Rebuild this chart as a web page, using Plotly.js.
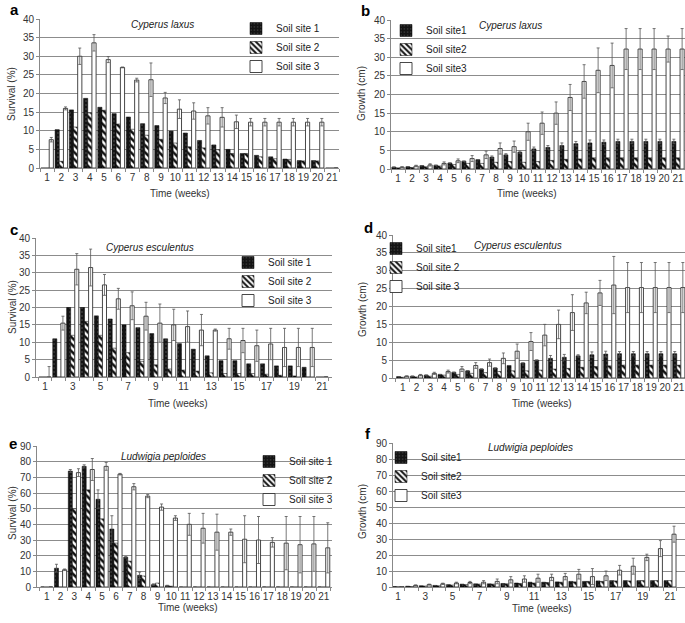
<!DOCTYPE html>
<html><head><meta charset="utf-8">
<script src="https://cdn.plot.ly/plotly-3.0.1.min.js"></script>
<style>html,body{margin:0;padding:0;background:#fff}#chart{width:685px;height:623px}</style>
</head><body><div id="chart"></div>
<script>
// ---------- data ----------
const weeks = [1,2,3,4,5,6,7,8,9,10,11,12,13,14,15,16,17,18,19,20,21];
const oddWeeks = [1,3,5,7,9,11,13,15,17,19,21];

// a: Cyperus laxus, survival (%)
const aSite1 = [0,10.3,15.6,18.7,16.3,14.6,13.7,11.9,11.4,9.9,9.4,7.4,6.2,5.0,3.9,3.4,3.0,2.4,2.0,2.0,0];
const aSite2 = [0,1.8,11.0,14.8,15.5,11.8,10.4,8.8,7.7,6.7,5.7,5.4,4.9,3.9,3.9,3.0,2.5,2.3,1.9,1.9,0];
const aSite3 = [7.6,16.0,30.0,33.6,29.1,27.0,23.6,23.7,18.8,15.8,15.3,14.0,13.6,12.4,12.3,12.3,12.3,12.3,12.3,12.3,0];
const aErr3  = [0.6,0.4,2.2,2.2,0.8,0.1,0.5,4.5,1.5,2.5,2.2,2.2,2.6,1.8,1.0,1.0,1.0,1.0,1.0,1.0,0];

// b: Cyperus laxus, growth (cm)
const bSite1 = [0.5,0.6,0.9,1.0,1.6,2.1,2.5,3.2,3.8,4.5,5.4,5.8,6.3,6.8,7.0,7.2,7.4,7.4,7.4,7.4,7.4];
const bSite2 = [0.3,0.4,0.6,0.8,1.2,1.5,1.5,1.8,2.0,1.8,2.0,2.3,2.6,2.7,3.0,3.0,3.0,3.0,3.0,3.0,3.0];
const bSite3 = [0.5,0.8,1.1,1.5,2.2,2.8,3.8,5.5,6.0,10.0,12.3,15.0,19.2,23.5,26.5,27.8,32.2,32.2,32.2,32.2,32.2];
const bErr1  = [0,0,0,0,0,0,0,0.3,0.3,0.3,0.5,0.5,0.7,0.6,0.8,0.6,0.6,0.6,0.6,0.6,0.6];
const bErr3  = [0.1,0.2,0.3,0.4,0.5,0.8,1.0,1.5,1.5,2.3,3.0,3.0,3.5,4.5,6.0,6.0,5.5,5.5,5.5,3.5,5.5];

// c: Cyperus esculentus, survival (%)
const cSite1 = [0,11,20,20,17.6,16.7,15,14.2,12.5,11,9.6,8,6.1,4.7,4.7,3.8,3.8,3.2,3.2,2.8,0];
const cSite2 = [0,0,12,16,12,8.3,7,4.5,3.5,2.3,2,1.7,1.2,1,1,1,0.8,0.5,0.3,0,0];
const cSite3 = [0,15.5,31,31.5,26.5,22.5,20.5,17.5,15.5,15,14.5,13.5,13.5,11,10.5,9,9.5,8.5,8.5,8.5,0];
const cErr3  = [3,2,4.5,5.3,3,3,4,4,5.5,4.5,4.5,4.5,0.3,3,3.5,4.5,4.5,5.5,5.5,5.5,0];

// d: Cyperus esculentus, growth (cm)
const dSite1 = [0.4,0.5,0.8,1.0,1.6,2.0,2.5,2.8,3.5,4.2,5.0,5.5,5.8,6.2,6.5,6.7,6.8,6.8,6.8,6.8,6.8];
const dSite2 = [0.2,0.3,0.5,0.8,1.0,1.3,1.5,1.8,2.0,2.0,2.2,2.5,2.7,3.0,3.2,3.4,3.6,3.6,3.6,3.6,3.6];
const dSite3 = [0.5,0.8,1.3,1.8,2.5,3.5,4.3,5.5,7.5,10.2,12,15,18.3,21,23.8,26,25.3,25.3,25.3,25.3,25.3];
const dErr1  = [0,0,0,0,0,0,0,0,0,0,0,0.8,0.8,0.3,0.8,0.8,0.6,0.6,0.6,0.6,0.6];
const dErr3  = [0.1,0.2,0.3,0.4,0.7,0.8,1.0,1.5,2.0,2.5,3.0,4.0,5.0,3.0,3.5,8.0,7.0,7.0,7.0,7.0,7.0];

// e: Ludwigia peploides, survival (%)
const eSite1 = [0,12,74,77,56,37,19,7.5,1.5,0.8,0,0,0,0,0,0,0,0,0,0,0];
const eSite2 = [0,0,50,62,43.5,28,16.5,7,2.5,0.5,0,0,0,0,0,0,0,0,0,0,0];
const eSite3 = [0,11,73,75,77,72,64,58,51,44,40,37.5,35,35,30.5,30,28.5,28,27,27.5,25];
const eErr1  = [0,2.5,1,1,6,8.5,0.5,2,0.5,0.3,0,0,0,0,0,0,0,0,0,0,0];
const eErr3  = [0,0.5,2.5,7,2.5,0.5,2,1,2,1.5,7,9.5,11.5,2,15,15,3,17,18,17.5,16];

// f: Ludwigia peploides, growth (cm)
const fSite1 = [0.3,0.5,0.8,1.0,1.5,1.8,2.0,2.0,2.2,2.5,3.0,3.0,3.2,3.5,3.5,3.8,4.0,4.0,4.0,4.0,4.0];
const fSite2 = [0.2,0.3,0.6,0.8,1.2,1.5,1.8,1.8,2.0,2.2,2.5,2.8,3.0,3.2,3.5,3.5,3.8,3.8,4.0,4.0,4.0];
const fSite3 = [0.3,1.0,1.5,2.0,2.5,2.8,3.0,3.5,4.5,5.0,5.5,6.0,6.5,8.0,6.5,7.0,10.5,13.0,18.5,24.0,33.0];
const fErr3  = [0,0.3,0.3,0.4,0.5,0.7,1.0,1.5,2.0,2.0,2.5,2.0,2.0,3.0,5.0,3.0,3.0,5.0,2.0,5.0,5.0];

const namesSpaced = ["Soil site 1","Soil site 2","Soil site 3"];
const namesTight  = ["Soil site1","Soil site2","Soil site3"];
const namesMixed  = ["Soil site1","Soil site 2","Soil site 3"];
const species = ["Cyperus laxus","Cyperus laxus","Cyperus esculentus","Cyperus esculentus","Ludwigia peploides","Ludwigia peploides"];
const panelLetters = ["a","b","c","d","e","f"];
const yTitles = ["Survival (%)","Growth (cm)","Survival (%)","Growth (cm)","Survival (%)","Growth (cm)"];
const xTitle = "Time (weeks)";

// ---------- layout helpers ----------
const W = 685, H = 623;
const px = v => v / W;
const py = v => 1 - v / H;
const FONT = "Liberation Sans, Arial, sans-serif";

const panels = [
  {s:[aSite1,aSite2,aSite3], e:[null,null,aErr3], names:namesSpaced, xd:[40,339], yd:[168,19], xr:[0.5,21.5], yr:[0,40], dt:5, ticks:weeks,
   leg:[236,14], sp:[162,24], let:[8,10], yt:[12,94], xt:[180,193]},
  {s:[bSite1,bSite2,bSite3], e:[bErr1,null,bErr3], names:namesTight, xd:[391,685], yd:[169,20], xr:[0.5,21.5], yr:[0,40], dt:5, ticks:weeks,
   leg:[386,16], sp:[510,25], let:[359,11], yt:[362,94], xt:[527,193]},
  {s:[cSite1,cSite2,cSite3], e:[null,null,cErr3], names:namesSpaced, xd:[36,332], yd:[377,238], xr:[0.35,21.72], yr:[0,40], dt:5, ticks:oddWeeks,
   leg:[228,248], sp:[150,247], let:[8,230], yt:[12,307], xt:[178,404]},
  {s:[dSite1,dSite2,dSite3], e:[dErr1,null,dErr3], names:namesMixed, xd:[393,685], yd:[378,235], xr:[0.3,21.45], yr:[0,40], dt:5, ticks:weeks,
   leg:[376,234], sp:[518,245], let:[362,228], yt:[362,310], xt:[542,404]},
  {s:[eSite1,eSite2,eSite3], e:[eErr1,null,eErr3], names:namesSpaced, xd:[37,332], yd:[587,446], xr:[0.3,21.6], yr:[0,90], dt:10, ticks:weeks,
   leg:[249,447], sp:[163,456], let:[7,443], yt:[12,513], xt:[188,607]},
  {s:[fSite1,fSite2,fSite3], e:[null,null,fErr3], names:namesTight, xd:[393,685], yd:[587,443], xr:[0.63,22.1], yr:[0,90], dt:10, ticks:oddWeeks,
   leg:[381,443], sp:[530,447], let:[363,433], yt:[362,512], xt:[542,608]}
];

const markerStyles = [
  {color:'#141414', pattern:{shape:'.', fgcolor:'#5a5a5a', bgcolor:'#141414', size:4, solidity:0.12}, line:{color:'#000', width:0.5}},
  {color:'#ffffff', pattern:{shape:'\\', fgcolor:'#111111', bgcolor:'#ffffff', size:5, solidity:0.5}, line:{color:'#000', width:0.5}},
  {color:'#ffffff', line:{color:'#333', width:0.9}}
];

const traces = [];
const layout = {
  width: W, height: H, margin:{l:0,r:0,t:0,b:0},
  paper_bgcolor:'#fff', plot_bgcolor:'rgba(0,0,0,0)',
  barmode:'group', bargap:0.12, bargroupgap:0,
  font:{family:FONT, size:10, color:'#333'},
  showlegend:true,
  annotations:[]
};

panels.forEach((p, i) => {
  const n = i === 0 ? '' : String(i + 1);
  const legKey = 'legend' + n;
  for (let k = 0; k < 3; k++) {
    const t = {
      type:'bar', x:weeks, y:p.s[k], name:p.names[k],
      xaxis:'x' + n, yaxis:'y' + n, legend:legKey,
      marker:markerStyles[k], cliponaxis:true, hoverinfo:'skip'
    };
    if (p.e[k]) t.error_y = {type:'data', array:p.e[k], visible:true, color:'#555', thickness:0.8, width:1.5};
    traces.push(t);
  }
  layout['xaxis' + n] = {
    domain:[px(p.xd[0]), px(p.xd[1])], range:p.xr, anchor:'y' + n,
    showgrid:false, zeroline:false, showline:true, linecolor:'#888', linewidth:1,
    tickmode:'array', tickvals:p.ticks, ticktext:p.ticks.map(String), ticks:'',
    tickfont:{family:FONT, size:10, color:'#333'},
    minor:{ticks:'outside', tickmode:'linear', tick0:0.5, dtick:1, ticklen:3, tickcolor:'#888', showgrid:false},
    fixedrange:true
  };
  layout['yaxis' + n] = {
    domain:[py(p.yd[0]), py(p.yd[1])], range:p.yr, anchor:'x' + n,
    dtick:p.dt, tick0:0, showgrid:true, gridcolor:'#8c8c8c', gridwidth:1,
    zeroline:false, showline:true, linecolor:'#888', linewidth:1,
    ticks:'outside', ticklen:3, tickcolor:'#888',
    tickfont:{family:FONT, size:10, color:'#333'}, fixedrange:true
  };
  layout[legKey] = {
    x:px(p.leg[0]), y:py(p.leg[1]), xanchor:'left', yanchor:'top',
    xref:'paper', yref:'paper',
    bgcolor:'rgba(0,0,0,0)', borderwidth:0,
    font:{family:FONT, size:10, color:'#222'}, traceorder:'normal', itemwidth:30
  };
  layout.annotations.push(
    {text:species[i], x:px(p.sp[0]), y:py(p.sp[1]), xref:'paper', yref:'paper', showarrow:false,
     xanchor:'center', yanchor:'middle', font:{family:FONT, size:10, color:'#222', style:'italic'}},
    {text:'<b>' + panelLetters[i] + '</b>', x:px(p.let[0]), y:py(p.let[1]), xref:'paper', yref:'paper', showarrow:false,
     xanchor:'left', yanchor:'middle', font:{family:FONT, size:15, color:'#000'}},
    {text:yTitles[i], x:px(p.yt[0]), y:py(p.yt[1]), xref:'paper', yref:'paper', showarrow:false,
     xanchor:'center', yanchor:'middle', textangle:-90, font:{family:FONT, size:10, color:'#333'}},
    {text:xTitle, x:px(p.xt[0]), y:py(p.xt[1]), xref:'paper', yref:'paper', showarrow:false,
     xanchor:'center', yanchor:'middle', font:{family:FONT, size:10, color:'#333'}}
  );
});

Plotly.newPlot('chart', traces, layout, {displayModeBar:false, staticPlot:true});
</script></body></html>
